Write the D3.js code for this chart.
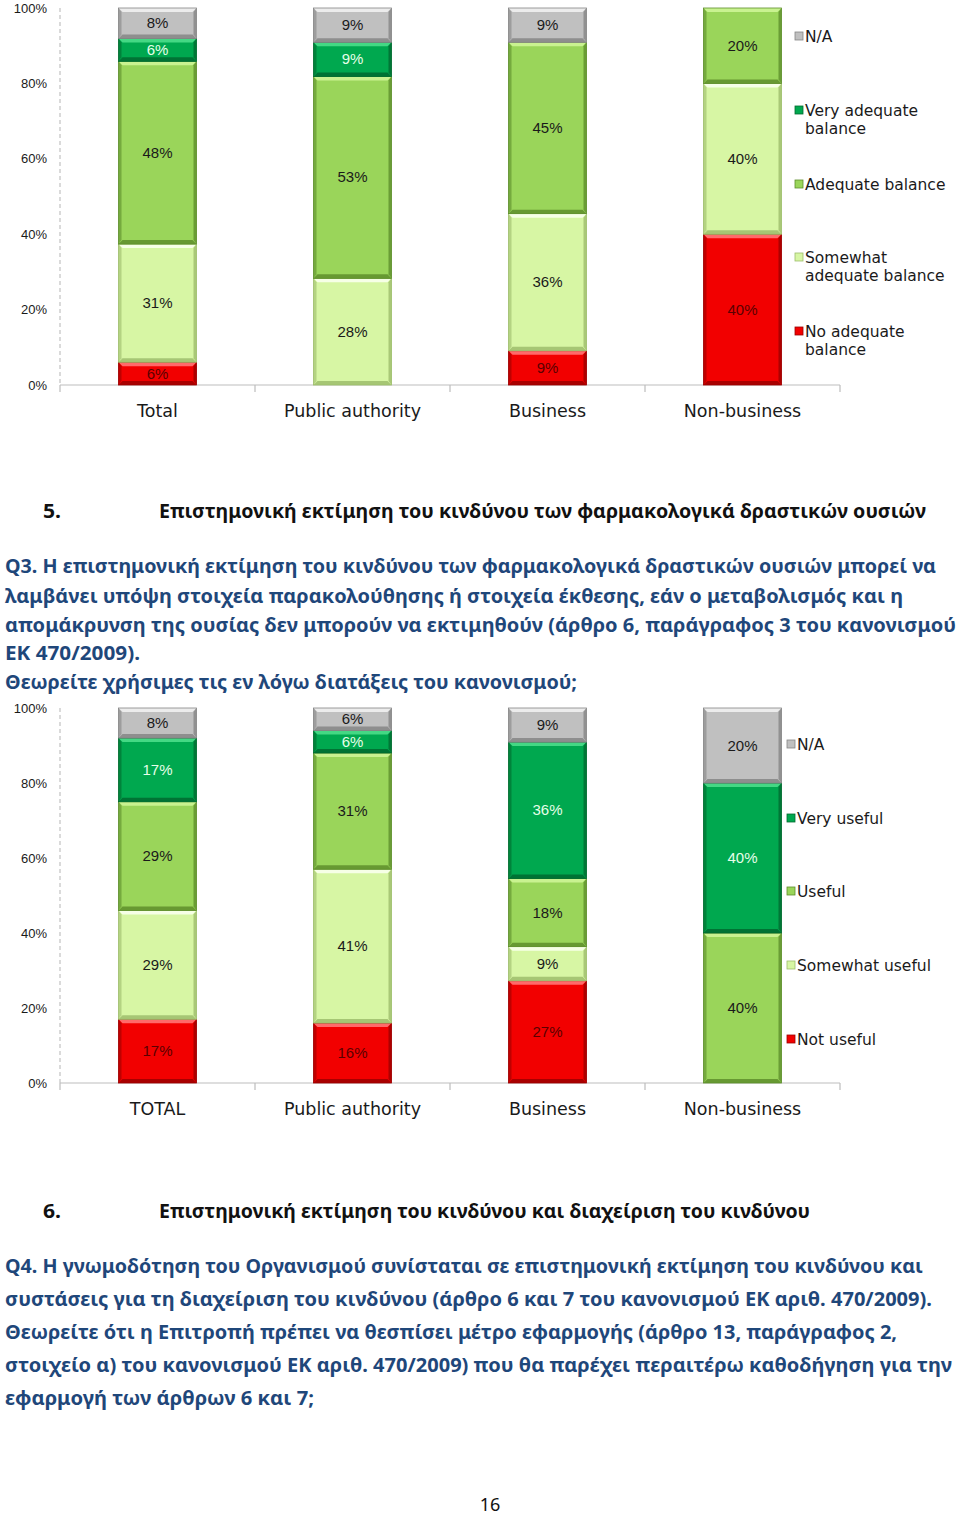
<!DOCTYPE html>
<html><head><meta charset="utf-8">
<script src="https://cdn.jsdelivr.net/npm/d3@7"></script>
<style>
html,body{margin:0;padding:0;background:#fff;}
svg{display:block;}
</style></head>
<body>
<svg id="page" width="960" height="1515"></svg>
<script>
// ---------------- DATA ----------------
const categories1 = ["Total", "Public authority", "Business", "Non-business"];
const series1 = ["No adequate balance", "Somewhat adequate balance", "Adequate balance", "Very adequate balance", "N/A"];
const noAdequate1   = [6, 0, 9, 40];
const somewhat1     = [31, 28, 36, 40];
const adequate1     = [48, 53, 45, 20];
const veryAdequate1 = [6, 9, 0, 0];
const na1           = [8, 9, 9, 0];

const categories2 = ["TOTAL", "Public authority", "Business", "Non-business"];
const series2 = ["Not useful", "Somewhat useful", "Useful", "Very useful", "N/A"];
const notUseful2  = [17, 16, 27, 0];
const somewhat2   = [29, 41, 9, 0];
const useful2     = [29, 31, 18, 40];
const veryUseful2 = [17, 6, 36, 40];
const na2         = [8, 6, 9, 20];

const yTicks = ["0%", "20%", "40%", "60%", "80%", "100%"];
const yTickValues = [0, 0.2, 0.4, 0.6, 0.8, 1];

const legend1 = [["N/A"], ["Very adequate", "balance"], ["Adequate balance"], ["Somewhat", "adequate balance"], ["No adequate", "balance"]];
const legend2 = [["N/A"], ["Very useful"], ["Useful"], ["Somewhat useful"], ["Not useful"]];

// ---------------- STYLE ----------------
const palette = [
  {base:"#f20000", light:"#ff6a6a", dark:"#9c0000", text:"#5a0000"},   // red
  {base:"#d7f6a4", light:"#f6ffe6", dark:"#9dbd6c", text:"#1a1a1a"},   // somewhat
  {base:"#9ad55a", light:"#c9f290", dark:"#5e8e2c", text:"#1a1a1a"},   // adequate / useful
  {base:"#00a84f", light:"#44d884", dark:"#006a2f", text:"#e6ffe9"},   // very
  {base:"#c0c0c0", light:"#ececec", dark:"#858585", text:"#1a1a1a"}    // N/A
];

const svg = d3.select("#page");

function drawChart(cfg) {
  const g = svg.append("g");
  const x = d3.scaleBand().domain(cfg.categories).range([60, 840]);
  const y = d3.scaleLinear().domain([0, 1]).range([cfg.y0, cfg.y1]);

  const table = cfg.categories.map((c, i) => {
    const row = {cat: c};
    cfg.series.forEach((s, k) => row[s] = cfg.values[k][i]);
    return row;
  });
  const stack = d3.stack().keys(cfg.series).offset(d3.stackOffsetExpand);
  const layers = stack(table);

  g.append("line").attr("x1", 60).attr("x2", 60).attr("y1", y(1)).attr("y2", y(0))
    .attr("stroke", "#b5b5b5").attr("stroke-width", 1).attr("stroke-dasharray", "4,3");
  g.selectAll("text.yt").data(yTickValues).join("text")
    .attr("x", 47).attr("y", d => y(d) + 4.5)
    .attr("text-anchor", "end")
    .attr("font-family", "Liberation Sans, Arial, sans-serif")
    .attr("font-size", 13).attr("fill", "#1a1a1a")
    .text((d, i) => yTicks[i]);

  g.append("line").attr("x1", 60).attr("x2", 840).attr("y1", y(0)).attr("y2", y(0))
    .attr("stroke", "#bdbdbd").attr("stroke-width", 1.2);
  const bounds = [60].concat(cfg.categories.map(c => x(c) + x.bandwidth()));
  g.selectAll("line.xt").data(bounds).join("line")
    .attr("x1", d => d).attr("x2", d => d).attr("y1", y(0)).attr("y2", y(0) + 7)
    .attr("stroke", "#bdbdbd").attr("stroke-width", 1.2);

  g.selectAll("text.xc").data(cfg.categories).join("text")
    .attr("x", d => x(d) + x.bandwidth() / 2)
    .attr("y", y(0) + 32)
    .attr("text-anchor", "middle")
    .attr("font-family", "DejaVu Sans, Verdana, sans-serif")
    .attr("font-size", 17.5).attr("fill", "#1a1a1a")
    .text(d => d);

  const bw = x.bandwidth() * 0.4;
  layers.forEach((layer, k) => {
    const col = palette[k];
    layer.forEach((seg, i) => {
      const v = cfg.values[k][i];
      if (!v) return;
      const cat = cfg.categories[i];
      const x0 = x(cat) + (x.bandwidth() - bw) / 2;
      const yt = y(seg[1]), yb = y(seg[0]);
      const h = yb - yt;
      const sg = g.append("g");
      sg.append("rect").attr("x", x0).attr("y", yt).attr("width", bw).attr("height", h)
        .attr("fill", col.base);
      const e = 4;
      sg.append("polygon").attr("points", [[x0, yt], [x0 + bw, yt], [x0 + bw - e, yt + e], [x0 + e, yt + e]].join(" "))
        .attr("fill", col.light);
      sg.append("polygon").attr("points", [[x0, yb], [x0 + bw, yb], [x0 + bw - e, yb - e], [x0 + e, yb - e]].join(" "))
        .attr("fill", col.dark).attr("opacity", 0.85);
      sg.append("polygon").attr("points", [[x0, yt], [x0 + 3, yt + e], [x0 + 3, yb - e], [x0, yb]].join(" "))
        .attr("fill", col.dark).attr("opacity", 0.6);
      sg.append("polygon").attr("points", [[x0 + bw, yt], [x0 + bw - 3, yt + e], [x0 + bw - 3, yb - e], [x0 + bw, yb]].join(" "))
        .attr("fill", col.dark).attr("opacity", 0.8);
      sg.append("rect").attr("x", x0).attr("y", yt).attr("width", bw).attr("height", h)
        .attr("fill", "none").attr("stroke", col.dark).attr("stroke-width", 0.8);
      sg.append("text")
        .attr("x", x0 + bw / 2).attr("y", (yt + yb) / 2 + 5)
        .attr("text-anchor", "middle")
        .attr("font-family", "Liberation Sans, Arial, sans-serif")
        .attr("font-size", 15).attr("fill", col.text)
        .text(v + "%");
    });
  });

  cfg.legend.forEach((lines, idx) => {
    const k = cfg.series.length - 1 - idx;
    const col = palette[k];
    const ly = cfg.legendY[idx];
    g.append("rect").attr("x", cfg.legendX).attr("y", ly - 4).attr("width", 8).attr("height", 8)
      .attr("fill", col.base).attr("stroke", col.dark).attr("stroke-width", 0.8);
    lines.forEach((t, j) => {
      g.append("text").attr("x", cfg.legendX + 10).attr("y", ly + 5.5 + j * 18.5)
        .attr("font-family", "DejaVu Sans, Verdana, sans-serif")
        .attr("font-size", 15.5).attr("fill", "#1a1a1a")
        .text(t);
    });
  });
}

drawChart({
  categories: categories1, series: series1,
  values: [noAdequate1, somewhat1, adequate1, veryAdequate1, na1],
  y0: 385, y1: 8, legend: legend1, legendX: 795,
  legendY: [36, 110, 184, 257, 331]
});
drawChart({
  categories: categories2, series: series2,
  values: [notUseful2, somewhat2, useful2, veryUseful2, na2],
  y0: 1083, y1: 708, legend: legend2, legendX: 787,
  legendY: [744, 818, 891, 965, 1039]
});

// ---------------- TEXT ----------------
const headingFont = "Noto Sans, Open Sans, sans-serif";
function textLine(t, x, yc, width, color, size, weight) {
  const el = svg.append("text").attr("x", x).attr("y", yc + size * 0.36)
    .attr("font-family", headingFont).attr("font-size", size)
    .attr("font-weight", weight).attr("fill", color).text(t);
  if (width) el.attr("textLength", width).attr("lengthAdjust", "spacingAndGlyphs");
  return el;
}
const headColor = "#111111";
const qColor = "#1f477a";

textLine("5.", 43, 511, 18, headColor, 20, "bold");
textLine("Επιστημονική εκτίμηση του κινδύνου των φαρμακολογικά δραστικών ουσιών", 159, 511, 767, headColor, 20, "bold");

const q3Lines = [
  "Q3. Η επιστημονική εκτίμηση του κινδύνου των φαρμακολογικά δραστικών ουσιών μπορεί να",
  "λαμβάνει υπόψη στοιχεία παρακολούθησης ή στοιχεία έκθεσης, εάν ο μεταβολισμός και η",
  "απομάκρυνση της ουσίας δεν μπορούν να εκτιμηθούν (άρθρο 6, παράγραφος 3 του κανονισμού",
  "ΕΚ 470/2009).",
  "Θεωρείτε χρήσιμες τις εν λόγω διατάξεις του κανονισμού;"
];
const q3W = [931, 898, 951, 135, 572];
const q3Y = [566, 596, 625, 653, 682];
q3Lines.forEach((t, i) => textLine(t, 5, q3Y[i], q3W[i], qColor, 20, "bold"));

textLine("6.", 43, 1211, 18, headColor, 20, "bold");
textLine("Επιστημονική εκτίμηση του κινδύνου και διαχείριση του κινδύνου", 159, 1211, 651, headColor, 20, "bold");

const q4Lines = [
  "Q4. Η γνωμοδότηση του Οργανισμού συνίσταται σε επιστημονική εκτίμηση του κινδύνου και",
  "συστάσεις για τη διαχείριση του κινδύνου (άρθρο 6 και 7 του κανονισμού ΕΚ αριθ. 470/2009).",
  "Θεωρείτε ότι η Επιτροπή πρέπει να θεσπίσει μέτρο εφαρμογής (άρθρο 13, παράγραφος 2,",
  "στοιχείο α) του κανονισμού ΕΚ αριθ. 470/2009) που θα παρέχει περαιτέρω καθοδήγηση για την",
  "εφαρμογή των άρθρων 6 και 7;"
];
const q4W = [918, 927, 892, 947, 309];
const q4Y = [1266, 1299, 1332, 1365, 1398];
q4Lines.forEach((t, i) => textLine(t, 5, q4Y[i], q4W[i], qColor, 20, "bold"));

svg.append("text").attr("x", 490).attr("y", 1506).attr("dominant-baseline", "middle").attr("text-anchor", "middle")
  .attr("font-family", headingFont).attr("font-size", 18).attr("fill", "#111").text("16");
</script>
</body></html>
